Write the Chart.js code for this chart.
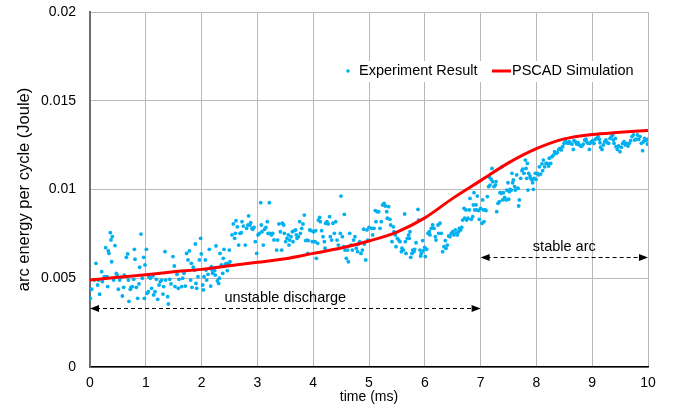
<!DOCTYPE html>
<html>
<head>
<meta charset="utf-8">
<script src="https://cdn.jsdelivr.net/npm/chart.js@4/dist/chart.umd.min.js"></script>
<style>
  html, body { margin: 0; padding: 0; background: #fff; }
  #wrap { width: 674px; height: 407px; }
</style>
</head>
<body>
<div id="wrap"><canvas id="chart" width="674" height="407"></canvas></div>
<script>
// tick labels
const xTickLabels = ['0', '1', '2', '3', '4', '5', '6', '7', '8', '9', '10'];
const yTickLabels = ['0', '0.005', '0.01', '0.015', '0.02'];

// PSCAD simulation curve (time in ms, energy in J)
const simTime = [0, 0.5, 1, 1.5, 2, 2.5, 3, 3.5, 4, 4.5, 5, 5.5, 6, 6.5, 7, 7.5, 8, 8.5, 9, 9.5, 10];
const simEnergy = [0.0049, 0.00505, 0.0052, 0.00536, 0.0055, 0.0057, 0.0059, 0.0061, 0.0064, 0.0067, 0.0071,
  0.0076, 0.0084, 0.0095, 0.0105, 0.0115, 0.0123, 0.01285, 0.0131, 0.01322, 0.01333];

// experiment result: [time, energy]
const expPoints = [
  [0.006,0.00387],[0.03,0.00438],[0.078,0.0049],[0.107,0.00584],[0.137,0.00462],[0.149,0.0049],[0.173,0.0041],[0.209,0.00537],
  [0.221,0.00481],[0.257,0.00509],[0.281,0.00672],[0.305,0.00509],[0.317,0.00453],[0.329,0.00654],[0.34,0.0064],[0.364,0.00757],
  [0.376,0.00716],[0.388,0.00593],[0.4,0.00734],[0.424,0.0049],[0.448,0.00684],[0.472,0.00528],[0.484,0.00519],[0.508,0.00438],
  [0.532,0.0049],[0.556,0.00505],[0.58,0.004],[0.603,0.00449],[0.615,0.00518],[0.651,0.00618],[0.675,0.00637],[0.687,0.0049],
  [0.699,0.0037],[0.723,0.00438],[0.735,0.00449],[0.759,0.00453],[0.783,0.00494],[0.795,0.00663],[0.806,0.00607],[0.83,0.00449],
  [0.854,0.00387],[0.878,0.00468],[0.89,0.00562],[0.914,0.00749],[0.938,0.005],[0.962,0.00618],[0.974,0.00387],[0.986,0.00575],
  [1.01,0.00663],[1.022,0.00415],[1.045,0.00424],[1.057,0.00509],[1.081,0.005],[1.105,0.00443],[1.129,0.00513],[1.141,0.00406],
  [1.165,0.00424],[1.189,0.00494],[1.213,0.00381],[1.237,0.00462],[1.261,0.00481],[1.284,0.0049],[1.308,0.00411],[1.32,0.00453],
  [1.344,0.0065],[1.356,0.0049],[1.392,0.00396],[1.404,0.00355],[1.428,0.00494],[1.452,0.00468],[1.487,0.00622],[1.511,0.00569],
  [1.523,0.00453],[1.559,0.00522],[1.583,0.00443],[1.595,0.00494],
  [1.643,0.00453],[1.661,0.005],[1.685,0.00528],[1.708,0.00456],[1.732,0.0064],[1.756,0.00603],[1.78,0.00654],[1.804,0.0049],
  [1.816,0.00584],[1.828,0.00449],[1.852,0.00562],[1.876,0.00546],[1.888,0.00693],[1.9,0.00471],[1.912,0.00443],[1.935,0.00509],
  [1.959,0.00603],[1.983,0.00725],[1.995,0.00637],[2.019,0.00462],[2.031,0.00434],[2.043,0.00509],[2.067,0.00603],[2.079,0.00546],
  [2.091,0.0049],[2.115,0.00522],[2.139,0.00663],[2.163,0.00456],[2.174,0.00565],[2.186,0.00546],[2.198,0.00528],[2.21,0.00556],
  [2.234,0.00543],[2.246,0.00518],[2.258,0.00682],[2.282,0.00485],[2.306,0.00471],[2.318,0.005],[2.33,0.0064],[2.354,0.00575],
  [2.378,0.00528],[2.389,0.00612],[2.401,0.00663],[2.425,0.0058],[2.449,0.00584],[2.461,0.00543],[2.485,0.00584],[2.497,0.00659],
  [2.509,0.00593],[2.545,0.00744],[2.569,0.00806],[2.593,0.00725],[2.605,0.00753],[2.616,0.00824],[2.64,0.0079],[2.664,0.00687],
  [2.688,0.00753],[2.712,0.00757],[2.724,0.00819],[2.748,0.00794],[2.783,0.00687],[2.807,0.00781],[2.831,0.008],[2.843,0.00851],
  [2.867,0.008],[2.879,0.00813],[2.903,0.00781],[2.915,0.00776],[2.939,0.00787],[2.963,0.00706],[2.987,0.0064],[3.011,0.00744],
  [3.035,0.00753],[3.059,0.00926],[3.071,0.008],[3.082,0.00762],[3.106,0.00687],[3.13,0.00776],[3.154,0.00787],[3.178,0.00819],
  [3.19,0.00753],[3.214,0.00926],[3.226,0.00753],[3.25,0.00744],[3.274,0.00753],[3.298,0.00716],
  [3.345,0.00659],[3.363,0.00715],[3.387,0.00806],[3.411,0.00762],[3.435,0.00659],[3.447,0.0081],[3.471,0.008],[3.483,0.00753],
  [3.507,0.00706],[3.53,0.00725],[3.554,0.00744],[3.566,0.00687],[3.578,0.00715],[3.602,0.00734],[3.626,0.00762],[3.638,0.00706],
  [3.662,0.00768],[3.686,0.00772],[3.698,0.00744],[3.71,0.00725],[3.734,0.00734],[3.758,0.00819],[3.77,0.00753],[3.793,0.00781],
  [3.817,0.00806],[3.841,0.00856],[3.865,0.00712],[3.889,0.00715],[3.901,0.0064],[3.913,0.00712],[3.937,0.00772],[3.961,0.00768],
  [3.985,0.00706],[4.009,0.00762],[4.032,0.00706],[4.044,0.00768],[4.056,0.00612],[4.08,0.00697],[4.092,0.00828],[4.116,0.00843],
  [4.128,0.00819],[4.152,0.00768],[4.176,0.00734],[4.2,0.00706],[4.211,0.00669],[4.223,0.0081],[4.247,0.00819],[4.271,0.00806],
  [4.295,0.00847],[4.307,0.00734],[4.331,0.00715],[4.355,0.0081],[4.379,0.00753],[4.403,0.00819],[4.427,0.00715],[4.451,0.00687],
  [4.486,0.00753],[4.498,0.00963],[4.522,0.00734],[4.546,0.00678],[4.558,0.0086],[4.57,0.00659],[4.594,0.00612],[4.618,0.00659],
  [4.63,0.00593],[4.654,0.00753],[4.677,0.00687],[4.701,0.00659],[4.725,0.00715],[4.749,0.00734],[4.773,0.00669],[4.797,0.0065],
  [4.809,0.00693],[4.833,0.00706],[4.857,0.0064],[4.881,0.00659],[4.905,0.00776],[4.917,0.00693],[4.941,0.00603],[4.964,0.00772],
  [4.976,0.00715],[5.0,0.00787],
  [5.048,0.00781],[5.066,0.00744],[5.09,0.00781],[5.113,0.00881],[5.125,0.00819],[5.149,0.00875],[5.173,0.00875],[5.197,0.00781],
  [5.221,0.00819],[5.245,0.00913],[5.269,0.00922],[5.293,0.00907],[5.317,0.00875],[5.329,0.00838],[5.352,0.00903],[5.376,0.00832],
  [5.388,0.008],[5.412,0.00706],[5.436,0.0079],[5.448,0.00762],[5.472,0.00744],[5.484,0.00678],[5.508,0.00725],[5.532,0.00715],
  [5.556,0.00706],[5.58,0.0065],[5.591,0.00669],[5.615,0.00659],[5.639,0.00862],[5.651,0.00706],[5.663,0.0064],[5.687,0.00725],
  [5.711,0.00744],[5.723,0.00725],[5.735,0.00762],[5.747,0.00618],[5.771,0.0064],[5.783,0.00659],[5.806,0.0065],[5.818,0.00663],
  [5.842,0.007],[5.878,0.00888],[5.89,0.00828],[5.914,0.00659],[5.926,0.00625],[5.938,0.0064],[5.962,0.00712],[5.974,0.00655],
  [5.998,0.00674],[6.01,0.00622],[6.034,0.00663],[6.057,0.00753],[6.081,0.00762],[6.093,0.00744],[6.117,0.00781],[6.141,0.008],
  [6.165,0.00781],[6.189,0.00734],[6.201,0.00715],[6.237,0.008],[6.249,0.00753],[6.272,0.0081],[6.296,0.00753],[6.32,0.0065],
  [6.344,0.00678],[6.368,0.00712],[6.38,0.00669],[6.404,0.00687],[6.428,0.00738],[6.452,0.00734],[6.476,0.00753],[6.5,0.00762],
  [6.523,0.00744],[6.547,0.00772],[6.559,0.00753],[6.583,0.00744],[6.607,0.00762],[6.619,0.00781],
  [6.643,0.00772],[6.661,0.00787],[6.679,0.00828],[6.703,0.00894],[6.715,0.00838],[6.738,0.00885],[6.75,0.00828],[6.774,0.00838],
  [6.798,0.00885],[6.81,0.0095],[6.834,0.00832],[6.858,0.00847],[6.87,0.00913],[6.882,0.00982],[6.894,0.00885],[6.918,0.00913],
  [6.93,0.00885],[6.941,0.00963],[6.965,0.00881],[6.977,0.00832],[7.001,0.00894],[7.025,0.0081],[7.037,0.00941],[7.049,0.00885],
  [7.061,0.00819],[7.085,0.00885],[7.097,0.00881],[7.121,0.0096],[7.145,0.01016],[7.157,0.01069],[7.168,0.01025],[7.192,0.01057],
  [7.204,0.01119],[7.216,0.01044],[7.24,0.01016],[7.264,0.01025],[7.276,0.01044],[7.288,0.00875],[7.312,0.00922],[7.336,0.00931],
  [7.348,0.00982],[7.372,0.00979],[7.384,0.01128],[7.395,0.00941],[7.407,0.00982],[7.431,0.00956],[7.455,0.00941],[7.467,0.00997],
  [7.491,0.01038],[7.503,0.00945],[7.515,0.00988],[7.527,0.01001],[7.551,0.00997],[7.563,0.01091],[7.575,0.01038],[7.587,0.01054],
  [7.611,0.01016],[7.622,0.00997],[7.646,0.01082],[7.67,0.01007],[7.682,0.00907],[7.694,0.00941],[7.718,0.01063],[7.742,0.01106],
  [7.754,0.01114],[7.778,0.01091],[7.802,0.01166],[7.814,0.01119],[7.826,0.01063],[7.838,0.01147],[7.849,0.00997],[7.861,0.01091],
  [7.885,0.01076],[7.897,0.01063],[7.921,0.01054],[7.933,0.01038],[7.945,0.01001],[7.957,0.01063],[7.981,0.01091],[7.993,0.01057],
  [8.017,0.01091],[8.041,0.01082],[8.053,0.01128],[8.076,0.01087],[8.1,0.01144],[8.112,0.01106],[8.124,0.01166],[8.148,0.01128],
  [8.172,0.01147],[8.196,0.01147],[8.22,0.01132],[8.232,0.01176],
  [8.256,0.01147],[8.28,0.01185],[8.303,0.01194],[8.327,0.01213],[8.351,0.01204],[8.375,0.01208],[8.399,0.01226],[8.423,0.01232],
  [8.447,0.01223],[8.471,0.01241],[8.495,0.0126],[8.519,0.01275],[8.542,0.01264],[8.566,0.0126],[8.59,0.01269],[8.614,0.0126],
  [8.638,0.01256],[8.662,0.01226],[8.674,0.01275],[8.698,0.01269],[8.722,0.01256],[8.746,0.01264],[8.769,0.01251],[8.793,0.01245],
  [8.817,0.01245],[8.841,0.01256],[8.865,0.01279],[8.889,0.01283],[8.901,0.01269],[8.925,0.0126],[8.949,0.01226],[8.961,0.0126],
  [8.984,0.01269],[9.008,0.01275],[9.032,0.0126],[9.056,0.01283],[9.08,0.01288],[9.104,0.01298],[9.128,0.01283],[9.14,0.01264],
  [9.152,0.01238],[9.176,0.01226],[9.2,0.01251],[9.223,0.01269],[9.247,0.01279],[9.271,0.01264],[9.295,0.0126],[9.319,0.01288],
  [9.343,0.01298],[9.367,0.01307],[9.379,0.01279],[9.391,0.0126],[9.415,0.01288],[9.427,0.01241],[9.45,0.01226],[9.474,0.01245],
  [9.498,0.01213],[9.522,0.01238],[9.546,0.0126],[9.57,0.01269],[9.594,0.01251],[9.618,0.0126],[9.642,0.01245],[9.665,0.0126],
  [9.689,0.01275],[9.713,0.01298],[9.737,0.01307],[9.761,0.01279],[9.785,0.01283],[9.809,0.01307],[9.833,0.01283],[9.857,0.01298],
  [9.881,0.0126],[9.904,0.01219],[9.916,0.01269],[9.94,0.01288],[9.964,0.01275],[9.988,0.01256],[10.0,0.01283]
];

// region annotations: label, from/to time, arrow level
const regionLabels = ['unstable discharge', 'stable arc'];
const regionFrom = [0, 7];
const regionTo = [7, 10];
const regionLevel = [0.0033, 0.0062];

const FONT = '"Liberation Sans", Arial, sans-serif';
const CYAN = '#00B0F0';
const RED = '#FF0000';

function arrowHead(ctx, x, y, dir) {
  ctx.beginPath();
  ctx.moveTo(x, y);
  ctx.lineTo(x - dir * 9, y - 3.5);
  ctx.lineTo(x - dir * 9, y + 3.5);
  ctx.closePath();
  ctx.fill();
}

const overlayPlugin = {
  id: 'overlay',
  afterDraw(chart) {
    const ctx = chart.ctx;
    const xs = chart.scales.x, ys = chart.scales.y;
    ctx.save();

    // region arrows with labels
    ctx.fillStyle = '#000';
    ctx.strokeStyle = '#000';
    ctx.lineWidth = 1;
    ctx.font = '14.5px ' + FONT;
    ctx.textAlign = 'center';
    ctx.textBaseline = 'middle';
    regionLabels.forEach((label, i) => {
      const x1 = xs.getPixelForValue(regionFrom[i]);
      const x2 = xs.getPixelForValue(regionTo[i]);
      const y = Math.round(ys.getPixelForValue(regionLevel[i])) + 0.5;
      ctx.setLineDash([4, 3]);
      ctx.beginPath();
      ctx.moveTo(x1 + 6, y);
      ctx.lineTo(x2 - 6, y);
      ctx.stroke();
      ctx.setLineDash([]);
      arrowHead(ctx, x1, y, -1);
      arrowHead(ctx, x2, y, 1);
      ctx.fillText(label, (x1 + x2) / 2, y - 11);
    });

    // legend
    ctx.fillStyle = '#fff';
    ctx.fillRect(340, 61, 300, 21);
    ctx.fillStyle = CYAN;
    ctx.beginPath();
    ctx.arc(348, 71, 1.8, 0, Math.PI * 2);
    ctx.fill();
    ctx.fillStyle = '#000';
    ctx.textAlign = 'left';
    ctx.fillText('Experiment Result', 359, 71);
    ctx.strokeStyle = RED;
    ctx.lineWidth = 3;
    ctx.beginPath();
    ctx.moveTo(492, 71);
    ctx.lineTo(511, 71);
    ctx.stroke();
    ctx.fillText('PSCAD Simulation', 512, 71);

    ctx.restore();
  }
};

const ctx = document.getElementById('chart').getContext('2d');
new Chart(ctx, {
  type: 'scatter',
  data: {
    datasets: [
      {
        label: 'PSCAD Simulation',
        data: simTime.map((t, i) => ({ x: t, y: simEnergy[i] })),
        showLine: true,
        borderColor: RED,
        backgroundColor: RED,
        borderWidth: 3,
        pointRadius: 0,
        cubicInterpolationMode: 'monotone',
        order: 0
      },
      {
        label: 'Experiment Result',
        data: expPoints.map(p => ({ x: p[0], y: p[1] })),
        backgroundColor: CYAN,
        borderWidth: 0,
        pointRadius: 1.9,
        order: 1
      }
    ]
  },
  options: {
    responsive: false,
    animation: false,
    layout: { padding: { left: 0, right: 26, top: 12, bottom: 0 } },
    plugins: { legend: { display: false }, tooltip: { enabled: false } },
    scales: {
      x: {
        type: 'linear',
        min: 0, max: 10,
        afterFit(scale) { scale.height = 40; scale.paddingLeft = 0; scale.paddingRight = 0; },
        afterBuildTicks(scale) { scale.ticks = xTickLabels.map(v => ({ value: Number(v) })); },
        ticks: {
          padding: 8,
          color: '#000',
          font: { family: FONT, size: 14 },
          maxRotation: 0,
          callback: (v, i) => xTickLabels[i]
        },
        grid: { color: '#b8b8b8', lineWidth: 1, drawTicks: false },
        border: { color: '#000', width: 1.5 },
        title: {
          display: true,
          text: 'time (ms)',
          color: '#000',
          font: { family: FONT, size: 14 },
          padding: { top: 0, bottom: 1 }
        }
      },
      y: {
        type: 'linear',
        min: 0, max: 0.02,
        afterFit(scale) { scale.width = 90; scale.paddingTop = 0; scale.paddingBottom = 0; },
        afterBuildTicks(scale) { scale.ticks = yTickLabels.map(v => ({ value: Number(v) })); },
        ticks: {
          padding: 14,
          color: '#000',
          font: { family: FONT, size: 14 },
          callback: (v, i) => yTickLabels[i]
        },
        grid: { color: '#b8b8b8', lineWidth: 1, drawTicks: false },
        border: { color: '#6e6e6e', width: 2 },
        title: {
          display: true,
          text: 'arc energy per cycle (Joule)',
          color: '#000',
          font: { family: FONT, size: 16.5 },
          padding: { top: 15, bottom: 0 }
        }
      }
    }
  },
  plugins: [overlayPlugin]
});
</script>
</body>
</html>
